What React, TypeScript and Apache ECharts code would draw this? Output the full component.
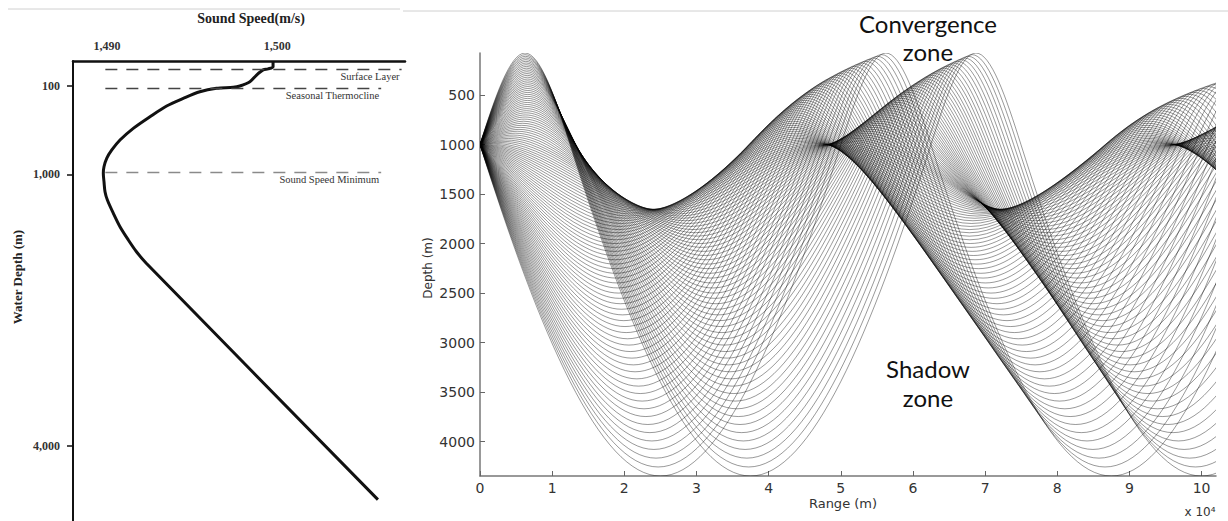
import React, { useEffect, useRef } from "react";
import * as echarts from "echarts";

// ---------- Left panel: sound speed profile ----------
const PROFILE_SPEED = [1499.75, 1499.75, 1499.46, 1499.17, 1498.78, 1498.39, 1497.8, 1497.41, 1496.43, 1495.45, 1494.48, 1493.5, 1492.52, 1491.54, 1490.76, 1490.28, 1489.98, 1489.82, 1489.78, 1489.82, 1489.88, 1490.02, 1490.37, 1490.76, 1491.25, 1491.74, 1492.29, 1505.91];
const PROFILE_DEPTH = [0, 23, 32, 36, 57, 84, 103, 116, 126, 161, 228, 306, 415, 533, 652, 753, 838, 923, 990, 1082, 1192, 1284, 1431, 1579, 1725, 1858, 1979, 4592];
const SPEED_TICKS = [1490, 1500];
const PROFILE_DEPTH_TICKS = [100, 1000, 4000];
const LAYER_NAMES = ["Surface Layer", "Seasonal Thermocline", "Sound Speed Minimum"];
const LAYER_DEPTHS = [32, 123, 975];

// ---------- Right panel: ray trace ----------
const RANGE_TICKS = [0, 1, 2, 3, 4, 5, 6, 7, 8, 9, 10];
const RAY_DEPTH_TICKS = [500, 1000, 1500, 2000, 2500, 3000, 3500, 4000];
const SOURCE_DEPTH = 1000;
// launch angle magnitude (deg); each ray is launched both upward and downward
const LAUNCH_ANGLES = [0, 0.25, 0.5, 0.75, 1, 1.25, 1.5, 1.75, 2, 2.25, 2.5, 2.75, 3, 3.25, 3.5, 3.75, 4, 4.25, 4.5, 4.75, 5, 5.25, 5.5, 5.75, 6, 6.25, 6.5, 6.75, 7, 7.25, 7.5, 7.75, 8, 8.25, 8.5, 8.75, 9, 9.25, 9.5, 9.75, 10, 10.25, 10.5, 10.75, 11, 11.25, 11.5, 11.75, 12, 12.25, 12.5, 12.75, 13];
// upper turning depth (m)
const TOP_DEPTH = [1000, 998.5, 994.2, 987.3, 978.0, 966.6, 953.2, 938.2, 921.6, 903.8, 885.0, 865.4, 846.5, 826.0, 805.5, 784.7, 763.9, 742.7, 721.5, 700.4, 679.2, 658.0, 637.0, 616.0, 595.2, 574.5, 553.8, 533.4, 513.1, 493.0, 473.0, 453.3, 433.6, 414.0, 394.7, 375.5, 356.5, 337.8, 319.2, 300.7, 282.4, 264.1, 246.0, 228.1, 210.4, 193.1, 175.9, 158.8, 141.8, 125.0, 108.3, 91.7, 75.2];
// lower turning depth (m)
const BOTTOM_DEPTH = [1654.5, 1656.5, 1662.3, 1672.0, 1685.5, 1702.0, 1721.7, 1744.2, 1769.3, 1796.9, 1826.7, 1858.5, 1890.3, 1925.1, 1961.4, 1998.9, 2037.9, 2078.4, 2120.2, 2163.2, 2207.5, 2253.1, 2299.9, 2348.0, 2397.3, 2447.8, 2499.7, 2552.8, 2607.2, 2662.8, 2719.8, 2778.1, 2837.8, 2898.7, 2961.1, 3024.9, 3090.2, 3156.7, 3224.8, 3294.6, 3366.0, 3439.5, 3514.3, 3590.6, 3668.3, 3746.7, 3827.0, 3909.1, 3993.1, 4078.8, 4166.5, 4255.9, 4347.3];
// ray cycle (skip) distance, x 10^4 m
const CYCLE_RANGE = [4.807, 4.808, 4.809, 4.812, 4.815, 4.820, 4.826, 4.833, 4.840, 4.849, 4.859, 4.870, 4.882, 4.895, 4.909, 4.924, 4.940, 4.958, 4.976, 4.995, 5.016, 5.037, 5.060, 5.083, 5.108, 5.134, 5.161, 5.189, 5.218, 5.248, 5.279, 5.311, 5.344, 5.379, 5.415, 5.451, 5.489, 5.528, 5.568, 5.609, 5.651, 5.695, 5.739, 5.785, 5.832, 5.880, 5.929, 5.980, 6.031, 6.084, 6.138, 6.193, 6.249];
// range from the source depth to the upper turning point, x 10^4 m
const TOP_OFFSET = [0, 0.065, 0.129, 0.190, 0.249, 0.303, 0.351, 0.392, 0.429, 0.462, 0.491, 0.517, 0.540, 0.559, 0.576, 0.591, 0.604, 0.615, 0.624, 0.632, 0.639, 0.644, 0.649, 0.653, 0.656, 0.658, 0.660, 0.661, 0.662, 0.663, 0.663, 0.663, 0.663, 0.663, 0.663, 0.662, 0.661, 0.660, 0.658, 0.655, 0.652, 0.650, 0.648, 0.645, 0.643, 0.641, 0.639, 0.636, 0.634, 0.632, 0.629, 0.627, 0.624];

// Schematic (stretched) depth scale of the left panel
const SCALE_DEPTH = [0, 100, 1000, 4000];
const SCALE_POS = [0, 24.7, 113.3, 385];
function depthToPos(d: number): number {
  for (let k = 1; k < SCALE_DEPTH.length; k++) {
    if (d <= SCALE_DEPTH[k] || k === SCALE_DEPTH.length - 1) {
      const t = (d - SCALE_DEPTH[k - 1]) / (SCALE_DEPTH[k] - SCALE_DEPTH[k - 1]);
      return SCALE_POS[k - 1] + t * (SCALE_POS[k] - SCALE_POS[k - 1]);
    }
  }
  return 0;
}
const fmtThousands = (n: number) => String(n).replace(/\B(?=(\d{3})+(?!\d))/g, ",");

function rayKnots(i: number, dir: number, xEnd: number): number[][] {
  const zu = TOP_DEPTH[i], zl = BOTTOM_DEPTH[i], L = CYCLE_RANGE[i], a = TOP_OFFSET[i];
  const m = Math.tan((LAUNCH_ANGLES[i] * Math.PI) / 180) * 1e4; // depth per range unit at source depth
  const pattern = dir > 0
    ? [[L / 2 - a, zl, 0], [L - 2 * a, SOURCE_DEPTH, -m], [L - a, zu, 0], [L, SOURCE_DEPTH, m]]
    : [[a, zu, 0], [2 * a, SOURCE_DEPTH, m], [a + L / 2, zl, 0], [L, SOURCE_DEPTH, -m]];
  const knots: number[][] = [[0, SOURCE_DEPTH, dir > 0 ? m : -m]];
  for (let k = 0; knots[knots.length - 1][0] < xEnd && k < 20; k++) {
    for (const p of pattern) knots.push([p[0] + k * L, p[1], p[2]]);
  }
  return knots;
}

function buildOption() {
  const serif = '"Liberation Serif", "DejaVu Serif", serif';
  const sans = '"DejaVu Sans", "Liberation Sans", sans-serif';
  const hand = 'Lato, "Open Sans", sans-serif';

  const profileData = PROFILE_SPEED.map((s, k) => [s, depthToPos(PROFILE_DEPTH[k])]);
  const profileTickPos = PROFILE_DEPTH_TICKS.map(depthToPos);
  const layerEnds = [1507.3, 1506.1, 1506.1];
  const layerColors = ["#444", "#444", "#8a8a8a"];
  const markLineData = LAYER_NAMES.map((name, k) => [
    { name, coord: [1489.9, depthToPos(LAYER_DEPTHS[k])], lineStyle: { color: layerColors[k] } },
    { coord: [layerEnds[k], depthToPos(LAYER_DEPTHS[k])] },
  ]);

  const rayItems: number[][] = [];
  LAUNCH_ANGLES.forEach((ang, i) => {
    rayItems.push([0, SOURCE_DEPTH, i, 1]);
    if (ang > 0) rayItems.push([0, SOURCE_DEPTH, i, -1]);
  });

  return {
    animation: false,
    backgroundColor: "#fff",
    grid: [
      { left: 73, top: 61, width: 332, height: 460 },
      { left: 480, top: 53, width: 736, height: 423 },
    ],
    xAxis: [
      {
        gridIndex: 0, type: "value", position: "top", min: 1488, max: 1507.5,
        axisLine: { lineStyle: { color: "#111", width: 2.5 } },
        axisTick: { show: false }, splitLine: { show: false },
        axisLabel: { customValues: SPEED_TICKS, formatter: (v: number) => fmtThousands(v), fontFamily: serif, fontSize: 12, fontWeight: "bold", color: "#333", margin: 9 },
      },
      {
        gridIndex: 1, type: "value", min: 0, max: 10.2,
        axisLine: { lineStyle: { color: "#777", width: 1.5 } },
        axisTick: { customValues: RANGE_TICKS, inside: true, length: 5, lineStyle: { color: "#666" } },
        splitLine: { show: false },
        axisLabel: { customValues: RANGE_TICKS, formatter: (v: number) => String(v), fontFamily: sans, fontSize: 14, color: "#333", margin: 5 },
      },
    ],
    yAxis: [
      {
        gridIndex: 0, type: "value", inverse: true, min: 0, max: 460,
        axisLine: { lineStyle: { color: "#111", width: 2 } },
        axisTick: { customValues: profileTickPos, length: 6, lineStyle: { color: "#111", width: 1.5 } },
        splitLine: { show: false },
        axisLabel: {
          customValues: profileTickPos,
          formatter: (v: number) => {
            const k = profileTickPos.findIndex((p) => Math.abs(p - v) < 0.01);
            return k >= 0 ? fmtThousands(PROFILE_DEPTH_TICKS[k]) : "";
          },
          fontFamily: serif, fontSize: 12, fontWeight: "bold", color: "#333", margin: 13,
        },
      },
      {
        gridIndex: 1, type: "value", inverse: true, min: 75, max: 4347,
        axisLine: { lineStyle: { color: "#777", width: 1.5 } },
        axisTick: { customValues: RAY_DEPTH_TICKS, inside: true, length: 5, lineStyle: { color: "#666" } },
        splitLine: { show: false },
        axisLabel: { customValues: RAY_DEPTH_TICKS, formatter: (v: number) => String(v), fontFamily: sans, fontSize: 14, color: "#333", margin: 5 },
      },
    ],
    series: [
      {
        type: "line", xAxisIndex: 0, yAxisIndex: 0, data: profileData, smooth: 0.3,
        symbol: "none", showSymbol: false, clip: false, silent: true,
        lineStyle: { color: "#111", width: 3 },
        markLine: {
          silent: true, symbol: ["none", "none"],
          lineStyle: { type: [12, 9], color: "#444", width: 1.4 },
          label: { show: true, position: "insideEndBottom", formatter: "{b}", fontFamily: serif, fontSize: 10.5, color: "#333", distance: 2 },
          data: markLineData,
        },
      },
      {
        type: "custom", coordinateSystem: "cartesian2d", xAxisIndex: 1, yAxisIndex: 1,
        clip: true, silent: true, encode: { x: 0, y: 1 }, data: rayItems,
        renderItem: (params: any, api: any) => {
          const i = api.value(2);
          const dir = api.value(3);
          const knots = rayKnots(i, dir, 10.6);
          const p0 = api.coord([knots[0][0], knots[0][1]]);
          let d = `M${p0[0].toFixed(2)},${p0[1].toFixed(2)}`;
          for (let j = 1; j < knots.length; j++) {
            const [x0, z0, s0] = knots[j - 1];
            const [x1, z1, s1] = knots[j];
            const dx = x1 - x0;
            if (dx < 1e-6) continue;
            const c1 = api.coord([x0 + dx / 3, z0 + (s0 * dx) / 3]);
            const c2 = api.coord([x1 - dx / 3, z1 - (s1 * dx) / 3]);
            const p = api.coord([x1, z1]);
            d += ` C${c1[0].toFixed(2)},${c1[1].toFixed(2)} ${c2[0].toFixed(2)},${c2[1].toFixed(2)} ${p[0].toFixed(2)},${p[1].toFixed(2)}`;
          }
          return {
            type: "path",
            shape: { pathData: d },
            style: { fill: "none", stroke: "rgba(0,0,0,0.4)", lineWidth: 1 },
          };
        },
      },
    ],
    graphic: [
      { type: "line", shape: { x1: 8, y1: 9, x2: 400, y2: 9 }, style: { stroke: "#d0d0d0", lineWidth: 1 } },
      { type: "line", shape: { x1: 403, y1: 11, x2: 1228, y2: 11 }, style: { stroke: "#d0d0d0", lineWidth: 1 } },
      { type: "text", x: 251, y: 18, style: { text: "Sound Speed(m/s)", font: `bold 14px ${serif}`, fill: "#222", align: "center", verticalAlign: "middle" } },
      { type: "text", x: 17, y: 277, rotation: Math.PI / 2, style: { text: "Water Depth (m)", font: `bold 13px ${serif}`, fill: "#222", align: "center", verticalAlign: "middle" } },
      { type: "text", x: 428, y: 268, rotation: Math.PI / 2, style: { text: "Depth (m)", font: `12px ${sans}`, fill: "#333", align: "center", verticalAlign: "middle" } },
      { type: "text", x: 843, y: 503, style: { text: "Range (m)", font: `13px ${sans}`, fill: "#333", align: "center", verticalAlign: "middle" } },
      { type: "text", x: 1200, y: 512, style: { text: "x 10\u2074", font: `12px ${sans}`, fill: "#333", align: "center", verticalAlign: "middle" } },
      { type: "text", x: 928, y: 37, style: { text: "Convergence\nzone", font: `24px ${hand}`, lineHeight: 28, fill: "#111", align: "center", verticalAlign: "middle" } },
      { type: "text", x: 928, y: 383, style: { text: "Shadow\nzone", font: `24px ${hand}`, lineHeight: 29, fill: "#111", align: "center", verticalAlign: "middle" } },
    ],
  };
}

export default function App() {
  const ref = useRef<HTMLDivElement>(null);
  useEffect(() => {
    if (!ref.current) return;
    const chart = echarts.init(ref.current, null, { renderer: "svg" });
    chart.setOption(buildOption() as any);
    return () => chart.dispose();
  }, []);
  return (
    <div
      ref={ref}
      style={{ position: "fixed", left: 0, top: 0, width: 1228, height: 521, background: "#fff" }}
    />
  );
}
